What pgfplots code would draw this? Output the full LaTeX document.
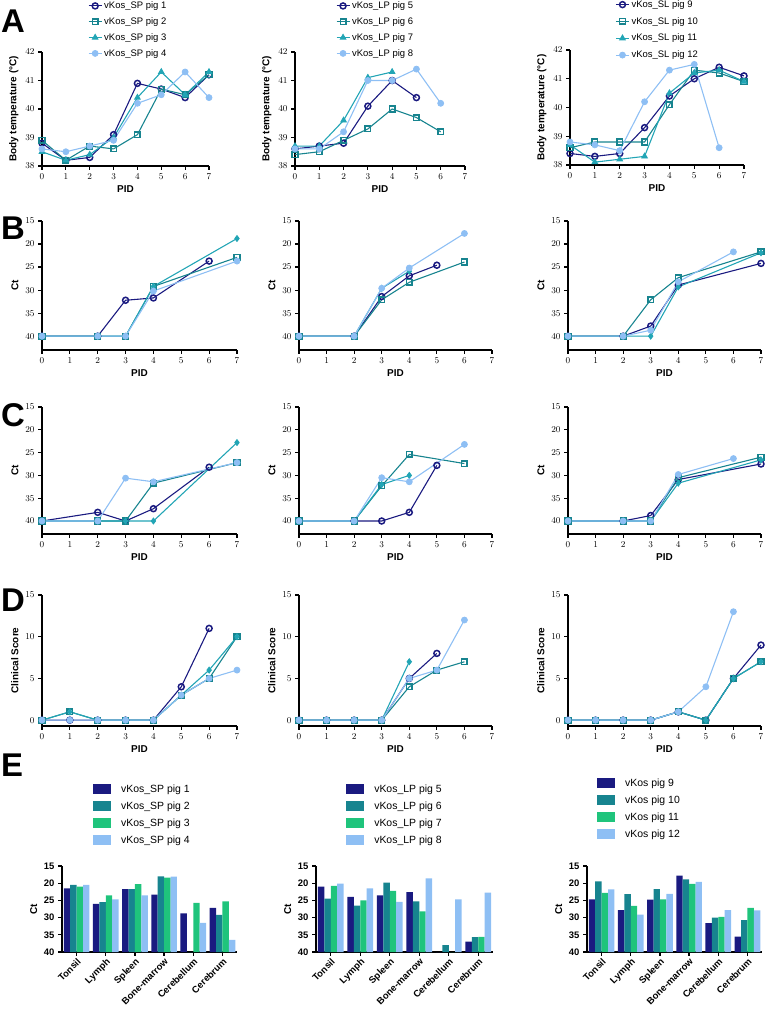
\documentclass[border=0pt]{standalone}
\usepackage{fontspec}
\setmainfont{Liberation Sans}
\usepackage{pgfplots}
\usepackage{pgfplotstable}
\pgfplotsset{compat=1.18}

\definecolor{cnavy}{HTML}{1A1A80}
\definecolor{cteal}{HTML}{17848F}
\definecolor{cturq}{HTML}{22A5B5}
\definecolor{cgreen}{HTML}{1FC47C}
\definecolor{clight}{HTML}{8EBFF4}
\newcommand{\fs}[1]{\fontsize{#1}{#1}\selectfont}

% organ Ct values, one table per group
\pgfplotstableread{
idx p1 p2 p3 p4
0 21.5 20.5 21.0 20.5
1 26.0 25.5 23.5 24.7
2 21.7 21.7 20.3 23.5
3 23.3 18.0 18.4 18.1
4 28.8 40 25.7 31.5
5 27.2 29.2 25.3 36.5
}\Esp
\pgfplotstableread{
idx p1 p2 p3 p4
0 21.0 24.5 20.8 20.1
1 24.0 26.5 25.0 21.5
2 23.5 19.8 22.2 25.4
3 22.6 25.3 28.2 18.6
4 40 38.0 40 24.7
5 37.0 35.7 35.6 22.7
}\Elp
\pgfplotstableread{
idx p1 p2 p3 p4
0 24.7 19.5 22.8 21.8
1 27.8 23.2 26.6 29.1
2 24.8 21.7 24.7 23.1
3 17.8 18.9 20.2 19.6
4 31.6 30.0 29.8 27.8
5 35.5 30.7 27.2 27.9
}\Esl

\pgfplotsset{
  gp/.style={scale only axis, clip=false, axis lines=left, anchor=south west,
    axis line style={line width=1.3pt,-},
    every tick/.style={black,line width=1.2pt},
    major tick length=4pt, tick align=outside,
    ticklabel style={font=\fs{9.5}\bfseries},
    label style={font=\fs{10}\bfseries}},
  tc/.style={gp, xmin=0, xmax=7, xtick={0,...,7}, xlabel={PID}},
  ta/.style={tc, ymin=38, ymax=42, ytick={38,...,42}, ylabel={Body temperature (°C)},
    legend style={draw=none, fill=none, anchor=north west, font=\fs{9.5},
      inner sep=0pt, row sep=3.5pt},
    legend cell align=left,
    legend image code/.code={\draw[mark repeat=2,mark phase=2,##1] plot coordinates {(0bp,0bp) (6.5bp,0bp) (13bp,0bp)};}},
  tb/.style={tc, y dir=reverse, ymin=15, ymax=43, ytick={15,20,...,40}, ylabel={Ct}},
  tcc/.style={tb, ymax=42.85},
  td/.style={tc, ymin=-0.7, ymax=15, ytick={0,5,10,15}, ylabel={Clinical Score}},
  te/.style={gp, xmin=-0.5, xmax=5.5, ymin=0, ymax=25, xtick={0,...,5},
    xticklabels={Tonsil,Lymph,Spleen,Bone-marrow,Cerebellum,Cerebrum},
    xticklabel style={rotate=45, anchor=north east, inner sep=1pt},
    ytick={0,5,...,25}, yticklabels={40,35,30,25,20,15}, ylabel={Ct},
    legend style={draw=none, fill=none, anchor=north west, font=\fs{10.5},
      inner sep=0pt, row sep=4pt},
    legend cell align=left},
  p1/.style={cnavy, line width=1.1pt, mark=o, mark size=3pt, mark options={line width=1.5pt, fill=white}},
  p2/.style={cteal, line width=1.1pt, mark=square, mark size=2.8pt, mark options={line width=1.5pt, fill=white}},
  p3/.style={cturq, line width=1.1pt, mark=triangle*, mark size=3.3pt, mark options={line width=0.8pt}},
  p3b/.style={p3, mark=diamond*, mark size=3pt},
  p4/.style={clight, line width=1.1pt, mark=*, mark size=3pt, mark options={line width=0.8pt}},
  bb/.style={ybar, bar width=0.22, draw=none},
  b1/.style={bb, bar shift=-0.33, fill=cnavy, legend image code/.code={\fill[cnavy] (0bp,-5bp) rectangle (18bp,5bp); \path (26bp,0bp);}},
  b2/.style={bb, bar shift=-0.11, fill=cteal, legend image code/.code={\fill[cteal] (0bp,-5bp) rectangle (18bp,5bp); \path (26bp,0bp);}},
  b3/.style={bb, bar shift=0.11, fill=cgreen, legend image code/.code={\fill[cgreen] (0bp,-5bp) rectangle (18bp,5bp); \path (26bp,0bp);}},
  b4/.style={bb, bar shift=0.33, fill=clight, legend image code/.code={\fill[clight] (0bp,-5bp) rectangle (18bp,5bp); \path (26bp,0bp);}},
}

\begin{document}
\begin{tikzpicture}
\useasboundingbox (0,0) rectangle (780bp,-1030bp);

\foreach \l/\y in {A/10,B/217,C/403,D/589,E/754}
  \node[anchor=north west, inner sep=0pt, font=\fs{33}\bfseries] at (1bp,-\y bp) {\l};

% ---- A: body temperature
\begin{axis}[ta, at={(42bp,-166bp)}, width=167bp, height=114bp,
  legend style={at={(axis description cs:0.275,1.46)}}]
\addplot[p1] coordinates {(0,38.8)(1,38.2)(2,38.3)(3,39.1)(4,40.9)(5,40.7)(6,40.4)(7,41.2)};
\addplot[p2] coordinates {(0,38.9)(1,38.2)(2,38.7)(3,38.6)(4,39.1)(5,40.7)(6,40.5)(7,41.2)};
\addplot[p3] coordinates {(0,38.5)(1,38.2)(2,38.4)(3,39.0)(4,40.4)(5,41.3)(6,40.5)(7,41.3)};
\addplot[p4] coordinates {(0,38.6)(1,38.5)(2,38.7)(3,38.9)(4,40.2)(5,40.5)(6,41.3)(7,40.4)};
\legend{vKos\_SP pig 1,vKos\_SP pig 2,vKos\_SP pig 3,vKos\_SP pig 4}
\end{axis}
\begin{axis}[ta, at={(295bp,-166bp)}, width=170bp, height=114bp,
  legend style={at={(axis description cs:0.24,1.46)}}]
\addplot[p1] coordinates {(0,38.6)(1,38.7)(2,38.8)(3,40.1)(4,41.0)(5,40.4)};
\addplot[p2] coordinates {(0,38.4)(1,38.5)(2,38.9)(3,39.3)(4,40.0)(5,39.7)(6,39.2)};
\addplot[p3] coordinates {(0,38.7)(1,38.7)(2,39.6)(3,41.1)(4,41.3)};
\addplot[p4] coordinates {(0,38.6)(1,38.6)(2,39.2)(3,41.0)(4,41.0)(5,41.4)(6,40.2)};
\legend{vKos\_LP pig 5,vKos\_LP pig 6,vKos\_LP pig 7,vKos\_LP pig 8}
\end{axis}
\begin{axis}[ta, at={(570bp,-165bp)}, width=174bp, height=115bp,
  legend style={at={(axis description cs:0.26,1.45)}, row sep=4.5pt}]
\addplot[p1] coordinates {(0,38.4)(1,38.3)(2,38.4)(3,39.3)(4,40.4)(5,41.0)(6,41.4)(7,41.1)};
\addplot[p2] coordinates {(0,38.6)(1,38.8)(2,38.8)(3,38.8)(4,40.1)(5,41.3)(6,41.2)(7,40.9)};
\addplot[p3] coordinates {(0,38.7)(1,38.1)(2,38.2)(3,38.3)(4,40.5)(5,41.2)(6,41.3)(7,40.9)};
\addplot[p4] coordinates {(0,38.8)(1,38.7)(2,38.5)(3,40.2)(4,41.3)(5,41.5)(6,38.6)};
\legend{vKos\_SL pig 9,vKos\_SL pig 10,vKos\_SL pig 11,vKos\_SL pig 12}
\end{axis}

% ---- B: Ct
\begin{axis}[tb, at={(42bp,-350bp)}, width=195bp, height=129bp]
\addplot[p1] coordinates {(0,40)(2,40)(3,32.2)(4,31.7)(6,23.7)};
\addplot[p2] coordinates {(0,40)(2,40)(3,40)(4,29.2)(7,22.9)};
\addplot[p3b] coordinates {(0,40)(2,40)(3,40)(4,29.2)(7,18.8)};
\addplot[p4] coordinates {(0,40)(2,40)(3,40)(4,30.2)(7,23.7)};
\end{axis}
\begin{axis}[tb, at={(299bp,-350bp)}, width=193bp, height=129bp]
\addplot[p1] coordinates {(0,40)(2,40)(3,31.4)(4,26.9)(5,24.6)};
\addplot[p2] coordinates {(0,40)(2,40)(3,32.1)(4,28.3)(6,23.9)};
\addplot[p3b] coordinates {(0,40)(2,40)(3,29.6)(4,25.9)};
\addplot[p4] coordinates {(0,40)(2,40)(3,29.6)(4,25.2)(6,17.7)};
\end{axis}
\begin{axis}[tb, at={(568bp,-350bp)}, width=193bp, height=129bp]
\addplot[p1] coordinates {(0,40)(2,40)(3,37.8)(4,28.9)(7,24.2)};
\addplot[p2] coordinates {(0,40)(2,40)(3,32.1)(4,27.3)(7,21.7)};
\addplot[p3b] coordinates {(0,40)(2,40)(3,40)(4,29.3)(7,21.9)};
\addplot[p4] coordinates {(0,40)(2,40)(3,38.7)(4,28.2)(6,21.7)};
\end{axis}

% ---- C: Ct
\begin{axis}[tcc, at={(42bp,-534bp)}, width=195bp, height=127bp]
\addplot[p1] coordinates {(0,40)(2,38.1)(3,40)(4,37.3)(6,28.2)};
\addplot[p2] coordinates {(0,40)(2,40)(3,40)(4,31.7)(7,27.2)};
\addplot[p3b] coordinates {(0,40)(2,40)(3,40)(4,40)(7,22.8)};
\addplot[p4] coordinates {(0,40)(2,40)(3,30.6)(4,31.4)(7,27.2)};
\end{axis}
\begin{axis}[tcc, at={(299bp,-534bp)}, width=193bp, height=127bp]
\addplot[p1] coordinates {(0,40)(2,40)(3,40)(4,38.1)(5,27.8)};
\addplot[p2] coordinates {(0,40)(2,40)(3,32.3)(4,25.4)(6,27.4)};
\addplot[p3b] coordinates {(0,40)(2,40)(3,32.0)(4,30.0)};
\addplot[p4] coordinates {(0,40)(2,40)(3,30.5)(4,31.4)(6,23.2)};
\end{axis}
\begin{axis}[tcc, at={(568bp,-534bp)}, width=193bp, height=127bp]
\addplot[p1] coordinates {(0,40)(2,40)(3,38.8)(4,30.9)(7,27.5)};
\addplot[p2] coordinates {(0,40)(2,40)(3,40)(4,30.5)(7,26.0)};
\addplot[p3b] coordinates {(0,40)(2,40)(3,40)(4,31.7)(7,26.6)};
\addplot[p4] coordinates {(0,40)(2,40)(3,40)(4,29.8)(6,26.3)};
\end{axis}

% ---- D: clinical score
\begin{axis}[td, at={(42bp,-726bp)}, width=195bp, height=131bp]
\addplot[p1] coordinates {(0,0)(1,0)(2,0)(3,0)(4,0)(5,4)(6,11)};
\addplot[p2] coordinates {(0,0)(1,1)(2,0)(3,0)(4,0)(5,3)(6,5)(7,10)};
\addplot[p3b] coordinates {(0,0)(1,1)(2,0)(3,0)(4,0)(5,3)(6,6)(7,10)};
\addplot[p4] coordinates {(0,0)(1,0)(2,0)(3,0)(4,0)(5,3)(6,5)(7,6)};
\end{axis}
\begin{axis}[td, at={(299bp,-726bp)}, width=193bp, height=131bp]
\addplot[p1] coordinates {(0,0)(1,0)(2,0)(3,0)(4,5)(5,8)};
\addplot[p2] coordinates {(0,0)(1,0)(2,0)(3,0)(4,4)(5,6)(6,7)};
\addplot[p3b] coordinates {(0,0)(1,0)(2,0)(3,0)(4,7)};
\addplot[p4] coordinates {(0,0)(1,0)(2,0)(3,0)(4,5)(5,6)(6,12)};
\end{axis}
\begin{axis}[td, at={(568bp,-726bp)}, width=193bp, height=131bp]
\addplot[p1] coordinates {(0,0)(1,0)(2,0)(3,0)(4,1)(5,0)(6,5)(7,9)};
\addplot[p2] coordinates {(0,0)(1,0)(2,0)(3,0)(4,1)(5,0)(6,5)(7,7)};
\addplot[p3b] coordinates {(0,0)(1,0)(2,0)(3,0)(4,1)(5,0)(6,5)(7,7)};
\addplot[p4] coordinates {(0,0)(1,0)(2,0)(3,0)(4,1)(5,4)(6,13)};
\end{axis}

% ---- E: organ Ct (bars rise from Ct 40)
\begin{axis}[te, at={(62bp,-952bp)}, width=175bp, height=86bp,
  legend style={at={(axis description cs:0.177,1.97)}}]
\addplot[b1] table[x=idx, y expr=40-\thisrow{p1}] {\Esp};
\addplot[b2] table[x=idx, y expr=40-\thisrow{p2}] {\Esp};
\addplot[b3] table[x=idx, y expr=40-\thisrow{p3}] {\Esp};
\addplot[b4] table[x=idx, y expr=40-\thisrow{p4}] {\Esp};
\legend{vKos\_SP pig 1,vKos\_SP pig 2,vKos\_SP pig 3,vKos\_SP pig 4}
\end{axis}
\begin{axis}[te, at={(316bp,-952bp)}, width=177bp, height=86bp,
  legend style={at={(axis description cs:0.17,1.97)}}]
\addplot[b1] table[x=idx, y expr=40-\thisrow{p1}] {\Elp};
\addplot[b2] table[x=idx, y expr=40-\thisrow{p2}] {\Elp};
\addplot[b3] table[x=idx, y expr=40-\thisrow{p3}] {\Elp};
\addplot[b4] table[x=idx, y expr=40-\thisrow{p4}] {\Elp};
\legend{vKos\_LP pig 5,vKos\_LP pig 6,vKos\_LP pig 7,vKos\_LP pig 8}
\end{axis}
\begin{axis}[te, at={(587bp,-952bp)}, width=175bp, height=86bp,
  legend style={at={(axis description cs:0.057,2.04)}}]
\addplot[b1] table[x=idx, y expr=40-\thisrow{p1}] {\Esl};
\addplot[b2] table[x=idx, y expr=40-\thisrow{p2}] {\Esl};
\addplot[b3] table[x=idx, y expr=40-\thisrow{p3}] {\Esl};
\addplot[b4] table[x=idx, y expr=40-\thisrow{p4}] {\Esl};
\legend{vKos pig 9,vKos pig 10,vKos pig 11,vKos pig 12}
\end{axis}
\end{tikzpicture}
\end{document}
